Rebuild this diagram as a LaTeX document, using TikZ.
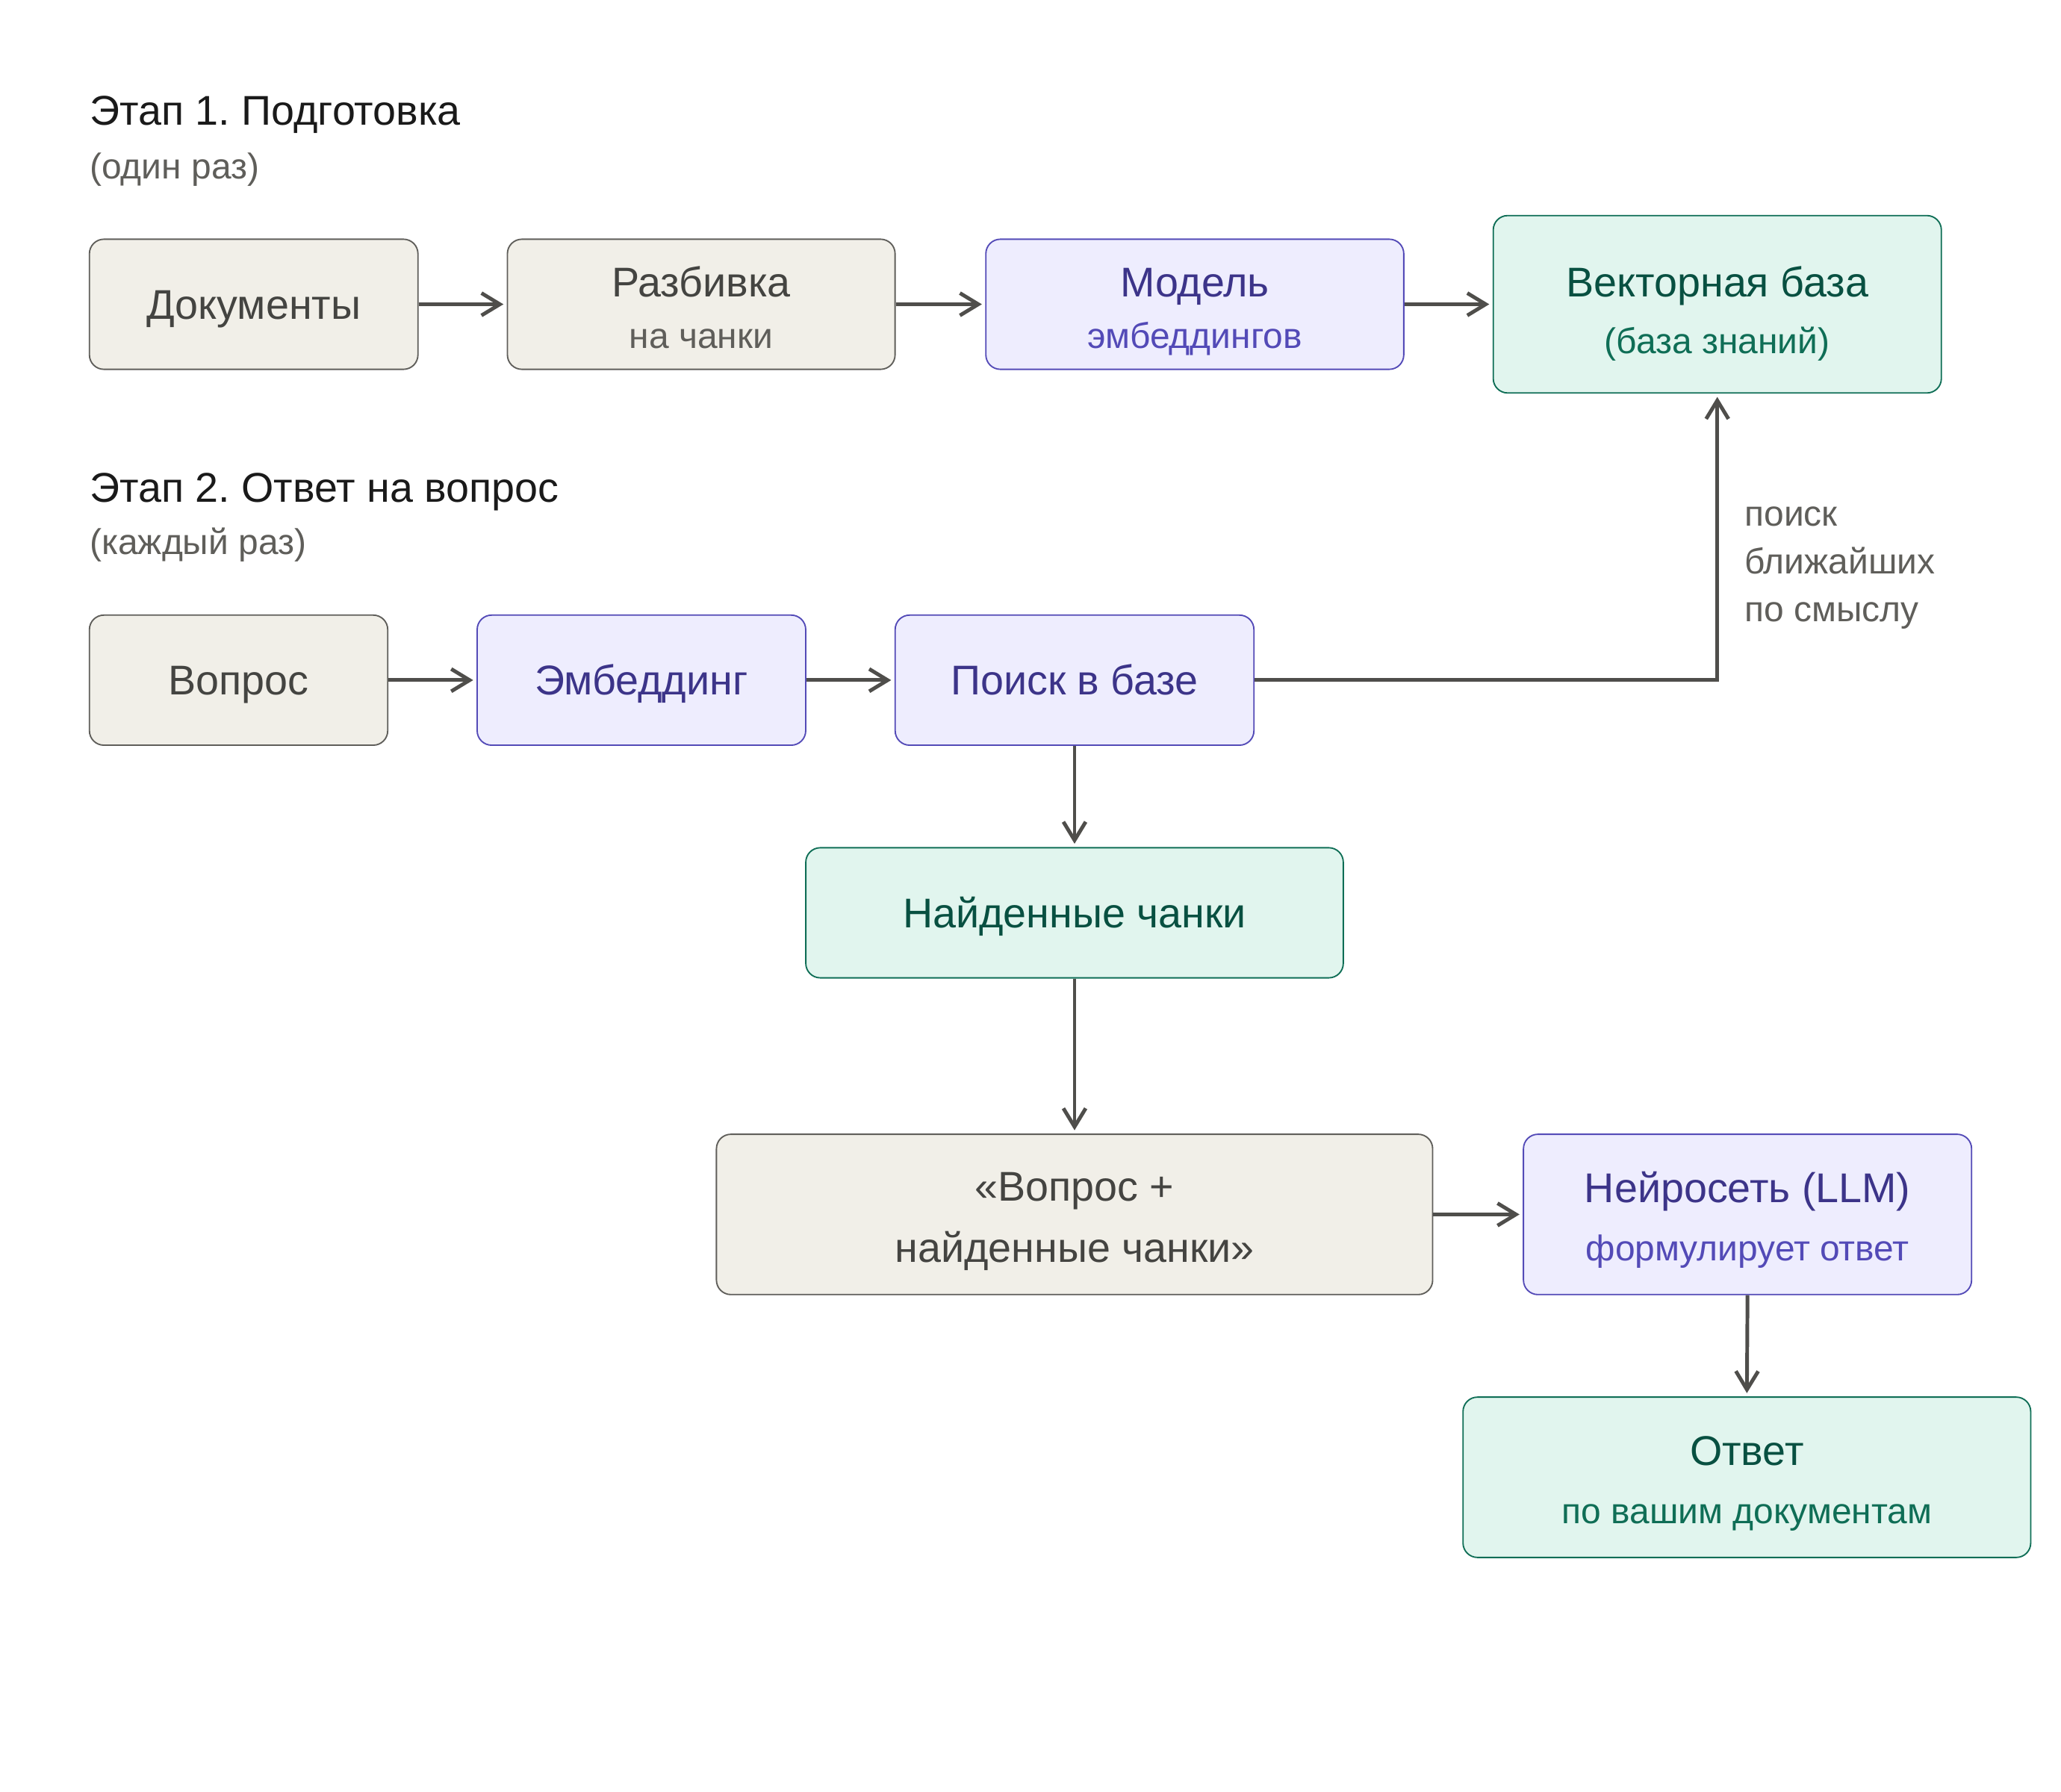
\documentclass[tikz,border=0pt]{standalone}
\usepackage{fontspec}
\setmainfont{Liberation Sans}
\usepackage{xcolor}
\usetikzlibrary{arrows.meta}
\frenchspacing
\definecolor{ragsand}{HTML}{F1EFE8}
\definecolor{ragsandline}{HTML}{5F5E5A}
\definecolor{ragsandtext}{HTML}{444441}
\definecolor{ragviolet}{HTML}{EEEDFE}
\definecolor{ragvioletline}{HTML}{534AB7}
\definecolor{ragviolettext}{HTML}{3C3489}
\definecolor{ragmint}{HTML}{E1F5EE}
\definecolor{ragmintline}{HTML}{0F6E56}
\definecolor{ragminttext}{HTML}{085041}
\definecolor{ragarrow}{HTML}{4F4E4B}
\definecolor{ragink}{HTML}{1A1A1A}
\newcommand{\subtxt}[2]{{\color{#1}\fontsize{15.5}{23}\selectfont #2}}
\tikzset{
  box/.style={rounded corners=0.22cm,line width=0.6pt,align=center,inner sep=0pt,font=\fontsize{18}{23}\selectfont,text depth=0pt,text height=#1},
  box/.default=0.456cm,
  sandbox/.style={box=#1,fill=ragsand,draw=ragsandline,text=ragsandtext},
  violetbox/.style={box=#1,fill=ragviolet,draw=ragvioletline,text=ragviolettext},
  mintbox/.style={box=#1,fill=ragmint,draw=ragmintline,text=ragminttext},
  sandbox/.default=0.456cm,violetbox/.default=0.456cm,mintbox/.default=0.456cm,
  stagetitle/.style={anchor=base west,inner sep=0pt,text=ragink,font=\fontsize{18}{22}\selectfont},
  stagenote/.style={anchor=base west,inner sep=0pt,text=ragsandline,font=\fontsize{15.5}{20}\selectfont},
  ar/.style={-{Straight Barb[length=2.8mm,width=3.4mm]},draw=ragarrow,line width=1.6pt,shorten >=0.5mm},
}

\begin{document}
\begin{tikzpicture}[x=0.02cm,y=-0.02cm]
  \useasboundingbox (0,0) rectangle (1568,1363);
  % stage 1
  \node[stagetitle] (t1) at (68,95) {Этап 1. Подготовка};
  \node[stagenote] (n1) at (68,136) {(один раз)};
  \node[sandbox,minimum width=5cm,minimum height=1.98cm] (docs) at (193,231.5) {Документы};
  \node[sandbox=1.33cm,minimum width=5.9cm,minimum height=1.98cm] (split) at (533.5,231.5) {Разбивка\\[-0.7pt]\subtxt{ragsandline}{на чанки}};
  \node[violetbox=1.33cm,minimum width=6.36cm,minimum height=1.98cm] (model) at (909,231.5) {Модель\\[-0.7pt]\subtxt{ragvioletline}{эмбеддингов}};
  \node[mintbox=1.5cm,minimum width=6.82cm,minimum height=2.7cm] (vector) at (1306.5,231.5) {Векторная база\\[1.5pt]\subtxt{ragmintline}{(база знаний)}};
  % stage 2
  \node[stagetitle] (t2) at (68,382) {Этап 2. Ответ на вопрос};
  \node[stagenote] (n2) at (68,422) {(каждый раз)};
  \node[sandbox,minimum width=4.54cm,minimum height=1.98cm] (question) at (181.5,517.5) {Вопрос};
  \node[violetbox,minimum width=5cm,minimum height=1.98cm] (embed) at (488,517.5) {Эмбеддинг};
  \node[violetbox,minimum width=5.46cm,minimum height=1.98cm] (search) at (817.5,517.5) {Поиск в базе};
  \node[mintbox,minimum width=8.18cm,minimum height=1.98cm] (found) at (817.5,694.5) {Найденные чанки};
  \node[sandbox=1.455cm,minimum width=10.9cm,minimum height=2.44cm] (combo) at (817.5,924) {«Вопрос +\\[3.5pt]найденные чанки»};
  \node[violetbox=1.41cm,minimum width=6.82cm,minimum height=2.44cm] (llm) at (1329.5,924) {Нейросеть (LLM)\\[2.2pt]\subtxt{ragvioletline}{формулирует ответ}};
  \node[mintbox=1.41cm,minimum width=8.64cm,minimum height=2.44cm] (answer) at (1329,1124) {Ответ\\[2.2pt]\subtxt{ragmintline}{по вашим документам}};
  \node[anchor=base west,inner sep=0pt,align=left,text=ragsandline,font=\fontsize{15.5}{20.7}\selectfont] (hint) at (1327,473) {поиск\\ближайших\\по смыслу};
  % connectors
  \foreach \a/\b in {docs/split,split/model,model/vector,question/embed,embed/search,combo/llm}
    \draw[ar] (\a.east) -- (\b.west);
  \foreach \a/\b in {search/found,found/combo,llm/answer}
    \draw[ar] (\a.south) -- (\b.north);
  \draw[ar] (search.east) -| (vector.south);
\end{tikzpicture}
\end{document}
